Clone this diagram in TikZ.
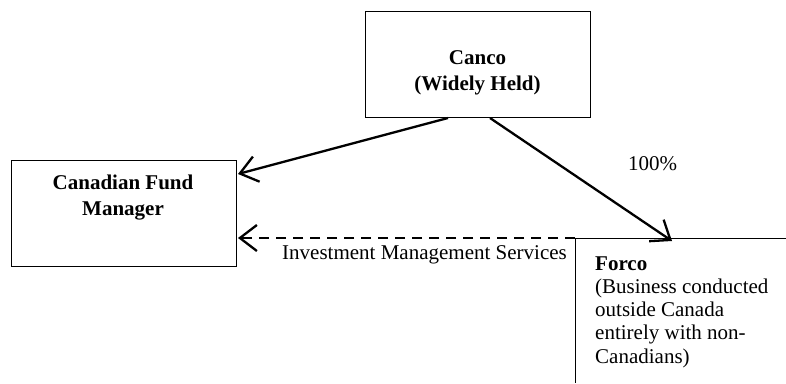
\documentclass[tikz,border=0pt]{standalone}
\usepackage{fontspec}
\setmainfont{Liberation Serif}
\usetikzlibrary{arrows.meta,calc}
\begin{document}
\begin{tikzpicture}[x=1pt,y=-1pt,
  boxstyle/.style={draw,line width=1pt,minimum width=225pt,minimum height=106pt,inner sep=0pt,anchor=north west},
  txt/.style={inner sep=0pt,font=\fontsize{21}{23.25}\selectfont},
  arr/.style={line width=2.3pt,-{Straight Barb[length=17pt,width=26pt,line width=2.3pt]}},
  plain/.style={line width=1pt}]
\useasboundingbox (0,0) rectangle (786,383);
\node[boxstyle] (canco) at (365,11) {};
\node[boxstyle] (fm) at (11,160) {};
\node[txt,align=center,anchor=base] (cancot) at (477.5,90) {\textbf{Canco}\\[2pt]\textbf{(Widely Held)}};
\node[txt,align=center,anchor=base] (fmt) at (123,215) {\textbf{Canadian Fund}\\[2pt]\textbf{Manager}};
\coordinate (corner) at (575,238);
\coordinate (rightend) at (786,238);
\coordinate (bottomend) at (575,383);
\coordinate (forco) at (672,241);
\draw[plain] (rightend) -- (corner) -- (bottomend);
\draw[arr] ($(canco.south west)+(83,0)$) -- ($(fm.north east)+(1,14)$);
\draw[arr] ($(canco.south west)+(125,0)$) -- (forco);
\draw[arr,dash pattern=on 10pt off 7pt] (corner) -- ($(fm.north east)+(1,78)$);
\node[txt,anchor=base west] (pct) at (628,170) {100\%};
\node[txt,anchor=base west] (ims) at (282,259) {Investment Management Services};
\node[txt,align=left,anchor=base west] (forcot) at (595,363) {\textbf{Forco}\\(Business conducted\\outside Canada\\entirely with non-\\Canadians)};
\end{tikzpicture}
\end{document}
